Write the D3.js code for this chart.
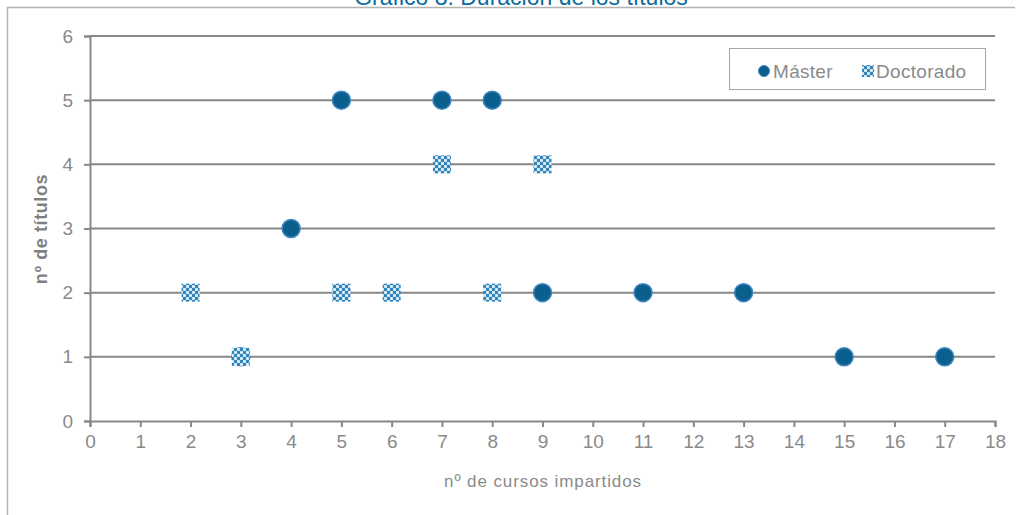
<!DOCTYPE html>
<html>
<head>
<meta charset="utf-8">
<script src="https://cdn.jsdelivr.net/npm/d3@7"></script>
<style>
  body { margin: 0; background: #fff; }
  text { font-family: "Liberation Sans", Arial, sans-serif; }
</style>
</head>
<body>
<script>
let w = 1018;
let h = 515;

// Máster: [cursos, títulos]
const masterX = [5, 7, 8, 4, 9, 11, 13, 15, 17, 3];
const masterY = [5, 5, 5, 3, 2, 2, 2, 1, 1, 1];
// Doctorado
const doctX = [7, 9, 2, 5, 6, 8, 3];
const doctY = [4, 4, 2, 2, 2, 2, 1];

const xTicks = d3.range(0, 19);
const yTicks = d3.range(0, 7);

const master = masterX.map((x, i) => ({ x: x, y: masterY[i] }));
const doct = doctX.map((x, i) => ({ x: x, y: doctY[i] }));

let svg = d3.select("body").append("svg").attr("width", w).attr("height", h);

// checkered pattern for doctorado
let defs = svg.append("defs");
let pat = defs.append("pattern")
  .attr("id", "checks")
  .attr("width", 6).attr("height", 6)
  .attr("patternUnits", "userSpaceOnUse");
pat.append("rect").attr("width", 6).attr("height", 6).attr("fill", "#c6e2f1");
pat.append("rect").attr("width", 3).attr("height", 3).attr("fill", "#3385bb");
pat.append("rect").attr("x", 3).attr("y", 3).attr("width", 3).attr("height", 3).attr("fill", "#3385bb");
pat.append("rect").attr("x", 4).attr("y", 1).attr("width", 1).attr("height", 1).attr("fill", "#ffffff");
pat.append("rect").attr("x", 1).attr("y", 4).attr("width", 1).attr("height", 1).attr("fill", "#ffffff");

// outer frame (partially cropped)
svg.append("path")
  .attr("d", "M7.5,515 V7.5 H1015")
  .attr("stroke", "#b3b3b3")
  .attr("stroke-width", 1.5)
  .attr("fill", "none");

// title
svg.append("text")
  .text("Gráfico 8: Duración de los títulos")
  .attr("x", 521).attr("y", 5)
  .attr("text-anchor", "middle")
  .attr("font-size", "23px")
  .attr("fill", "#0a6c9c");

const x = d3.scaleLinear().domain([0, 18]).range([90, 995]);
const y = d3.scaleLinear().domain([0, 6]).range([421, 36]);

// gridlines
svg.append("g")
  .selectAll("line")
  .data(yTicks.filter(d => d > 0))
  .enter()
  .append("line")
  .attr("x1", x(0)).attr("x2", x(18))
  .attr("y1", d => y(d)).attr("y2", d => y(d))
  .attr("stroke", "#878787")
  .attr("stroke-width", 2);

// y axis
let yAxis = svg.append("g")
  .attr("transform", "translate(" + x(0) + ",0)")
  .call(d3.axisLeft(y).tickValues(yTicks).tickSize(6).tickPadding(11).tickFormat(d3.format("d")));
// x axis
let xAxis = svg.append("g")
  .attr("transform", "translate(0," + y(0) + ")")
  .call(d3.axisBottom(x).tickValues(xTicks).tickSize(6).tickPadding(8).tickFormat(d3.format("d")));

[xAxis, yAxis].forEach(function (a) {
  a.select(".domain").attr("stroke", "#878787").attr("stroke-width", 2);
  a.selectAll(".tick line").attr("stroke", "#878787").attr("stroke-width", 2);
  a.selectAll(".tick text")
    .attr("fill", "#8a8a8a")
    .attr("font-size", "19px")
    .attr("font-family", "Liberation Sans, Arial, sans-serif");
});

// axis titles
svg.append("text")
  .text("nº de cursos impartidos")
  .attr("x", 543).attr("y", 487)
  .attr("text-anchor", "middle")
  .attr("font-size", "17px")
  .attr("letter-spacing", "0.9px")
  .attr("fill", "#8a8a8a");

svg.append("text")
  .text("nº de títulos")
  .attr("transform", "translate(47,229) rotate(-90)")
  .attr("text-anchor", "middle")
  .attr("font-size", "18px")
  .attr("letter-spacing", "0.6px")
  .attr("font-weight", "bold")
  .attr("fill", "#7f7f7f");

// master points
svg.append("g")
  .selectAll("circle")
  .data(master)
  .enter()
  .append("circle")
  .attr("cx", d => x(d.x))
  .attr("cy", d => y(d.y))
  .attr("r", 9)
  .attr("fill", "#0b5f8d")
  .attr("stroke", "#3f86c4")
  .attr("stroke-width", 1.5);

// doctorado points
svg.append("g")
  .selectAll("rect")
  .data(doct)
  .enter()
  .append("rect")
  .attr("x", d => x(d.x) - 9)
  .attr("y", d => y(d.y) - 9)
  .attr("width", 18).attr("height", 18)
  .attr("fill", "url(#checks)");

// legend
let lg = svg.append("g");
lg.append("rect")
  .attr("x", 729.5).attr("y", 48.5)
  .attr("width", 256).attr("height", 41)
  .attr("fill", "#fff")
  .attr("stroke", "#a6a6a6");
lg.append("circle")
  .attr("cx", 764).attr("cy", 71).attr("r", 5.5)
  .attr("fill", "#0b5f8d").attr("stroke", "#3f86c4");
lg.append("text").text("Máster")
  .attr("x", 773).attr("y", 78)
  .attr("font-size", "19px").attr("letter-spacing", "0.3px").attr("fill", "#8a8a8a");
lg.append("rect")
  .attr("x", 862).attr("y", 65).attr("width", 12).attr("height", 12)
  .attr("fill", "url(#checks)");
lg.append("text").text("Doctorado")
  .attr("x", 876).attr("y", 78)
  .attr("font-size", "19px").attr("letter-spacing", "0.3px").attr("fill", "#8a8a8a");
</script>
</body>
</html>
